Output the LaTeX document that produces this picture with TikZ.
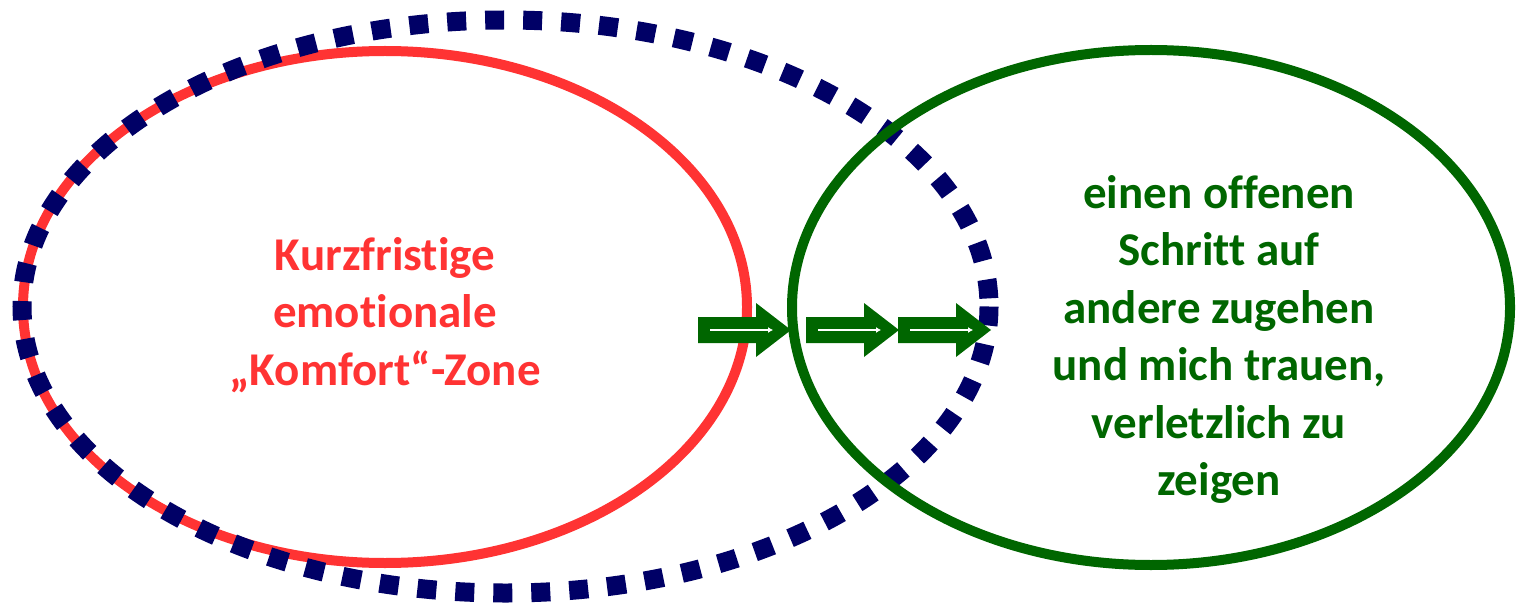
\documentclass[tikz,border=0pt]{standalone}
\usepackage{fontspec}
\setmainfont{Carlito}[Ligatures = NoCommon]
\usetikzlibrary{arrows.meta}
\definecolor{rossoZona}{HTML}{FF3333}
\definecolor{bluNotte}{HTML}{000066}
\definecolor{verdeScuro}{HTML}{006600}
\newcommand{\frecciaBlocco}[1]{
\fill[freccia, shift={(#1)}] (0,-13) -- (58,-13) -- (58,-27) -- (93,0) -- (58,27) -- (58,13) -- (0,13) -- cycle;
\draw[frecciaInterna, shift={(#1)}] (12,0) -- (75,0);
}

\begin{document}
\begin{tikzpicture}[x = 0.5pt, y = -0.5pt,
    freccia/.style = {fill = verdeScuro},
    frecciaInterna/.style = {white, line width = 1pt, -{Latex[length = 2.5pt, width = 3pt]}},
    testo/.style = {align = center, font = \fontsize{23.5pt}{28.75pt}\selectfont\bfseries}]
    \useasboundingbox (0,0) rectangle (1519,604);
    % zona rossa
    \draw[rossoZona, line width = 5pt] (385,307) ellipse [x radius = 362, y radius = 256];
    % ellisse tratteggiata
    \draw[bluNotte, line width = 9.5pt, dash pattern = on 9.5pt off 9.5pt] (505.5,306.5) ellipse [x radius = 483.5, y radius = 286.5];
    % zona verde
    \draw[verdeScuro, line width = 5pt] (1151,307.5) ellipse [x radius = 359, y radius = 257.5];
    % frecce
    \coordinate (fUno) at (698,330);
    \coordinate (fDue) at (806,330);
    \coordinate (fTre) at (898,330);
    \frecciaBlocco{fUno}
    \frecciaBlocco{fDue}
    \frecciaBlocco{fTre}
    % testi
    \node[testo, text = rossoZona] (komfort) at (385,315) {Kurzfristige\\emotionale\\„Komfort“-Zone};
    \node[testo, text = verdeScuro] (schritt) at (1219,339.5) {einen offenen\\Schritt auf\\andere zugehen\\und mich trauen,\\verletzlich zu\\zeigen};
\end{tikzpicture}
\end{document}
